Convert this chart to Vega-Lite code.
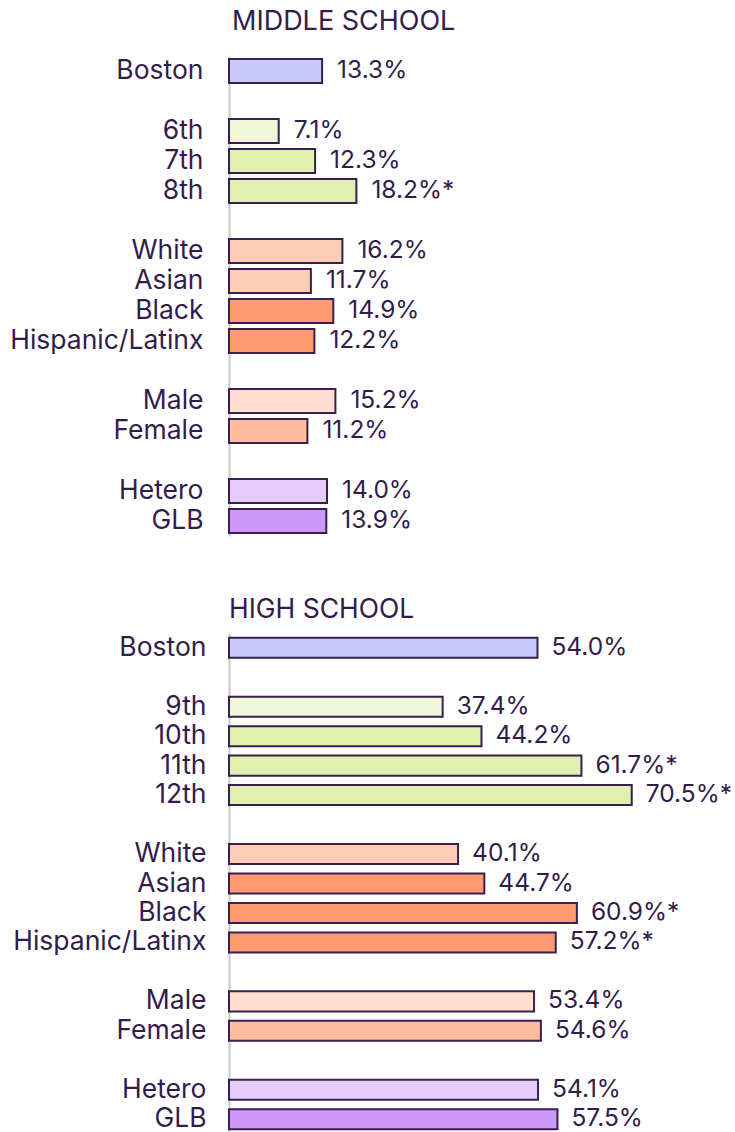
{
  "$schema": "https://vega.github.io/schema/vega-lite/v6.json",
  "padding": {"left": 9, "top": 8, "right": 5, "bottom": 0},
  "spacing": 60,
  "config": {
    "view": {"stroke": null},
    "font": "Inter",
    "text": {"color": "#341c4a"},
    "axis": {"labelColor": "#341c4a", "labelFont": "Inter"},
    "title": {"color": "#341c4a", "font": "Inter"}
  },
  "datasets": {
    "ms": [
      {"label": "Boston", "value": 13.3, "display": "13.3%", "group": "boston", "hatched": false},
      {"label": "6th", "value": 7.1, "display": "7.1%", "group": "grade", "hatched": true},
      {"label": "7th", "value": 12.3, "display": "12.3%", "group": "grade", "hatched": false},
      {"label": "8th", "value": 18.2, "display": "18.2%*", "group": "grade", "hatched": false},
      {"label": "White", "value": 16.2, "display": "16.2%", "group": "race", "hatched": true},
      {"label": "Asian", "value": 11.7, "display": "11.7%", "group": "race", "hatched": true},
      {"label": "Black", "value": 14.9, "display": "14.9%", "group": "race", "hatched": false},
      {"label": "Hispanic/Latinx", "value": 12.2, "display": "12.2%", "group": "race", "hatched": false},
      {"label": "Male", "value": 15.2, "display": "15.2%", "group": "gender", "hatched": true},
      {"label": "Female", "value": 11.2, "display": "11.2%", "group": "gender", "hatched": false},
      {"label": "Hetero", "value": 14.0, "display": "14.0%", "group": "orient", "hatched": true},
      {"label": "GLB", "value": 13.9, "display": "13.9%", "group": "orient", "hatched": false}
    ],
    "hs": [
      {"label": "Boston", "value": 54.0, "display": "54.0%", "group": "boston", "hatched": false},
      {"label": "9th", "value": 37.4, "display": "37.4%", "group": "grade", "hatched": true},
      {"label": "10th", "value": 44.2, "display": "44.2%", "group": "grade", "hatched": false},
      {"label": "11th", "value": 61.7, "display": "61.7%*", "group": "grade", "hatched": false},
      {"label": "12th", "value": 70.5, "display": "70.5%*", "group": "grade", "hatched": false},
      {"label": "White", "value": 40.1, "display": "40.1%", "group": "race", "hatched": true},
      {"label": "Asian", "value": 44.7, "display": "44.7%", "group": "race", "hatched": false},
      {"label": "Black", "value": 60.9, "display": "60.9%*", "group": "race", "hatched": false},
      {"label": "Hispanic/Latinx", "value": 57.2, "display": "57.2%*", "group": "race", "hatched": false},
      {"label": "Male", "value": 53.4, "display": "53.4%", "group": "gender", "hatched": true},
      {"label": "Female", "value": 54.6, "display": "54.6%", "group": "gender", "hatched": false},
      {"label": "Hetero", "value": 54.1, "display": "54.1%", "group": "orient", "hatched": true},
      {"label": "GLB", "value": 57.5, "display": "57.5%", "group": "orient", "hatched": false}
    ]
  },
  "vconcat": [
    {
      "data": {"name": "ms"},
      "width": 140,
      "height": 480,
      "title": {"text": "MIDDLE SCHOOL", "anchor": "start", "frame": "group", "fontSize": 27, "fontWeight": "normal", "offset": 20, "dx": 3},
      "encoding": {
        "y": {
          "field": "label", "type": "nominal", "title": null,
          "scale": {"domain": ["Boston", " ", "6th", "7th", "8th", "  ", "White", "Asian", "Black", "Hispanic/Latinx", "   ", "Male", "Female", "    ", "Hetero", "GLB"], "paddingInner": 0.2, "paddingOuter": 0.1},
          "axis": {"ticks": false, "domainColor": "#c8c8c8", "domainWidth": 2, "labelFontSize": 26.5, "labelPadding": 26, "labelLimit": 300}
        },
        "x": {"field": "value", "type": "quantitative", "scale": {"domain": [0, 20]}, "axis": null}
      },
      "layer": [
        {
          "mark": {"type": "bar", "stroke": "#3a1f4e", "strokeWidth": 2},
          "encoding": {
            "fill": {
              "field": "group", "type": "nominal", "legend": null,
              "scale": {"domain": ["boston", "grade", "race", "gender", "orient"], "range": ["#c5caf9", "#dff0b0", "#ff9b6e", "#ffbda0", "#cc99fb"]},
              "condition": [
                {"test": "datum.hatched && datum.group === 'grade'", "value": "#eff7d8"},
                {"test": "datum.hatched && datum.group === 'race'", "value": "#ffcdb6"},
                {"test": "datum.hatched && datum.group === 'gender'", "value": "#ffe0d0"},
                {"test": "datum.hatched && datum.group === 'orient'", "value": "#e6ccfd"}
              ]
            }
          }
        },
        {
          "mark": {"type": "text", "align": "left", "baseline": "middle", "dx": 15, "fontSize": 24.5},
          "encoding": {"text": {"field": "display"}}
        }
      ]
    },
    {
      "data": {"name": "hs"},
      "width": 457,
      "height": 501,
      "title": {"text": "HIGH SCHOOL", "anchor": "start", "frame": "group", "fontSize": 26.5, "fontWeight": "normal", "offset": 10},
      "encoding": {
        "y": {
          "field": "label", "type": "nominal", "title": null,
          "scale": {"domain": ["Boston", " ", "9th", "10th", "11th", "12th", "  ", "White", "Asian", "Black", "Hispanic/Latinx", "   ", "Male", "Female", "    ", "Hetero", "GLB"], "paddingInner": 0.32, "paddingOuter": 0.16},
          "axis": {"ticks": false, "domainColor": "#c8c8c8", "domainWidth": 2, "labelFontSize": 26.5, "labelPadding": 23, "labelLimit": 300}
        },
        "x": {"field": "value", "type": "quantitative", "scale": {"domain": [0, 80]}, "axis": null}
      },
      "layer": [
        {
          "mark": {"type": "bar", "stroke": "#3a1f4e", "strokeWidth": 2},
          "encoding": {
            "fill": {
              "field": "group", "type": "nominal", "legend": null,
              "scale": {"domain": ["boston", "grade", "race", "gender", "orient"], "range": ["#c5caf9", "#dff0b0", "#ff9b6e", "#ffbda0", "#cc99fb"]},
              "condition": [
                {"test": "datum.hatched && datum.group === 'grade'", "value": "#eff7d8"},
                {"test": "datum.hatched && datum.group === 'race'", "value": "#ffcdb6"},
                {"test": "datum.hatched && datum.group === 'gender'", "value": "#ffe0d0"},
                {"test": "datum.hatched && datum.group === 'orient'", "value": "#e6ccfd"}
              ]
            }
          }
        },
        {
          "mark": {"type": "text", "align": "left", "baseline": "middle", "dx": 14, "fontSize": 24.5},
          "encoding": {"text": {"field": "display"}}
        }
      ]
    }
  ]
}
